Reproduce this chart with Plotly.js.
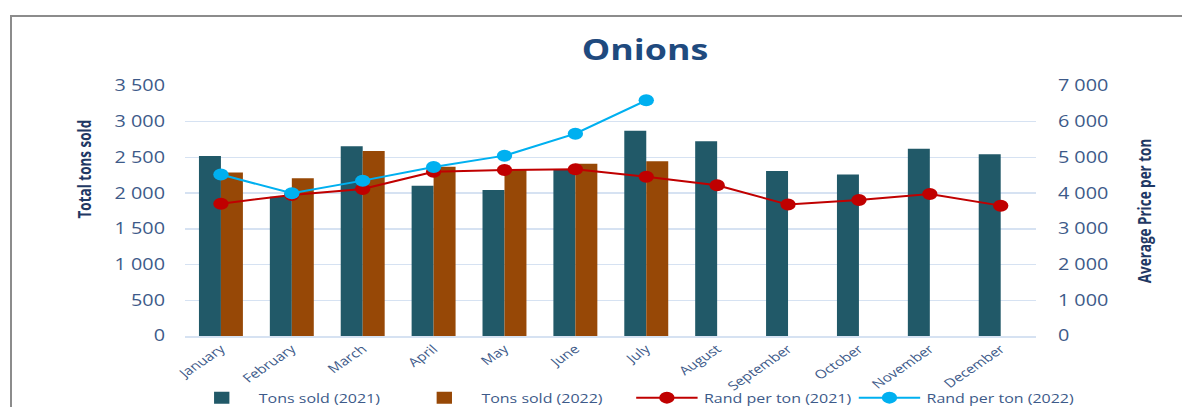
<!DOCTYPE html>
<html>
<head>
<meta charset="utf-8">
<script src="https://cdn.plot.ly/plotly-3.0.1.min.js"></script>
<style>
  html, body { margin: 0; padding: 0; background: #ffffff; overflow: hidden; width: 1182px; height: 407px; }
  #wrap { position: absolute; left: 0; top: 0; width: 1182px; height: 407px; overflow: hidden; }
  #chart { position: absolute; left: 0; top: 0; width: 924px; height: 407px;
           transform: scaleX(1.2792); transform-origin: 0 0; }
  #frame { position: absolute; left: 10px; top: 15px; width: 1200px; height: 420px;
           border-left: 2px solid #8c8c8c; border-top: 2px solid #8c8c8c; pointer-events: none; }
</style>
</head>
<body>
<div id="wrap">
  <div id="chart"></div>
  <div id="frame"></div>
</div>
<script>
const months = ["January","February","March","April","May","June","July","August","September","October","November","December"];
const tons2021 = [2520, 1950, 2655, 2105, 2045, 2330, 2875, 2725, 2310, 2260, 2620, 2545];
const tons2022 = [2290, 2210, 2590, 2370, 2330, 2410, 2445, null, null, null, null, null];
const rand2021 = [3705, 3950, 4115, 4600, 4650, 4670, 4460, 4220, 3680, 3810, 3975, 3650];
const rand2022 = [4520, 3995, 4350, 4730, 5050, 5665, 6600, null, null, null, null, null];

const tickColor = "#3d5a89";
const axisTitleColor = "#1f3864";
const titleColor = "#1f4a7e";
const gridColor = "#d6e2f2";
const font = "'Open Sans', 'Liberation Sans', sans-serif";

const traces = [
  { type: "bar", name: "Tons sold (2021)", x: months, y: tons2021, marker: { color: "#215968" }, yaxis: "y" },
  { type: "bar", name: "Tons sold (2022)", x: months, y: tons2022, marker: { color: "#974806" }, yaxis: "y" },
  { type: "scatter", mode: "lines+markers", name: "Rand per ton (2021)", x: months, y: rand2021, yaxis: "y2",
    line: { color: "#c00000", width: 2 }, marker: { color: "#c00000", size: 12 } },
  { type: "scatter", mode: "lines+markers", name: "Rand per ton (2022)", x: months, y: rand2022, yaxis: "y2",
    line: { color: "#00b0f0", width: 2 }, marker: { color: "#00b0f0", size: 12 } }
];

const layout = {
  width: 924, height: 407,
  margin: { l: 145, r: 114, t: 86, b: 71, autoexpand: false },
  paper_bgcolor: "rgba(0,0,0,0)", plot_bgcolor: "rgba(0,0,0,0)",
  separators: ". ",
  barmode: "group", bargap: 0.38, bargroupgap: 0,
  showlegend: true,
  title: { text: "<b>Onions</b>", x: 0.5457, xanchor: "center", y: 0.877, yanchor: "middle",
           font: { family: font, size: 28, color: titleColor } },
  xaxis: { type: "category", range: [-0.5, 11.5], autorange: false, tickangle: -41,
           tickfont: { family: font, size: 12, color: tickColor },
           showline: true, linecolor: gridColor, linewidth: 1.5, ticks: "", showgrid: false, automargin: false },
  yaxis: { range: [0, 3500], dtick: 500, separatethousands: true, showgrid: true, gridcolor: gridColor, gridwidth: 1.5,
           zeroline: false, tickfont: { family: font, size: 15.5, color: tickColor }, ticks: "", ticklabelstandoff: 15,
           automargin: false },
  yaxis2: { overlaying: "y", side: "right", range: [0, 7000], dtick: 1000, separatethousands: true, showgrid: false,
            zeroline: false, tickfont: { family: font, size: 15.5, color: tickColor }, ticks: "", ticklabelstandoff: 16,
            automargin: false,
            title: { text: "<b>Average Price per ton</b>", standoff: 24, font: { family: font, size: 13.5, color: axisTitleColor } } },
  annotations: [
    { text: "<b>Total tons sold</b>", xref: "paper", yref: "paper", x: -0.118, y: 0.668,
      xanchor: "center", yanchor: "middle", textangle: -90, showarrow: false,
      font: { family: font, size: 13.5, color: axisTitleColor } }
  ],
  legend: { orientation: "h", xref: "paper", x: -0.001, xanchor: "left", yref: "paper", y: -0.248, yanchor: "middle",
            bgcolor: "rgba(0,0,0,0)", font: { family: font, size: 12.5, color: tickColor },
            itemwidth: 48, entrywidth: 111, entrywidthmode: "pixels", traceorder: "normal" }
};

Plotly.newPlot("chart", traces, layout, { staticPlot: true, displayModeBar: false });
</script>
</body>
</html>
